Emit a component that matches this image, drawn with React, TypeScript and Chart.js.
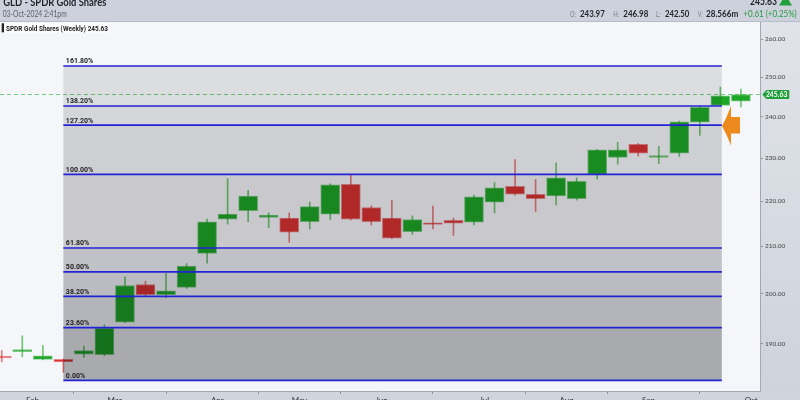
import React, { useEffect, useRef } from "react";
import { Chart, registerables } from "chart.js";

Chart.register(...registerables);

// Weekly candles, index 0 = week of 22-Jan-2024 ... index 36 = week of 30-Sep-2024
const WEEKS = [0, 1, 2, 3, 4, 5, 6, 7, 8, 9, 10, 11, 12, 13, 14, 15, 16, 17, 18, 19, 20, 21, 22, 23, 24, 25, 26, 27, 28, 29, 30, 31, 32, 33, 34, 35, 36];
const OPEN = [187.4, 188.4, 186.9, 186.9, 187.9, 187.8, 194.2, 201.9, 199.8, 201.3, 208.5, 216.0, 217.9, 216.4, 216.2, 215.4, 217.1, 223.9, 218.6, 216.2, 213.2, 215.0, 215.7, 215.3, 219.8, 223.4, 221.6, 221.2, 220.6, 226.2, 230.2, 233.3, 230.2, 231.2, 238.7, 242.9, 243.97];
const HIGH = [188.6, 191.5, 189.6, 187.0, 189.5, 193.7, 203.5, 202.6, 204.2, 206.3, 216.0, 225.2, 222.5, 217.4, 217.4, 219.8, 224.0, 226.0, 219.0, 220.2, 216.7, 218.9, 216.2, 221.4, 224.3, 229.7, 225.0, 228.9, 225.4, 232.1, 233.8, 233.5, 232.8, 239.0, 242.6, 247.5, 246.98];
const LOW = [186.4, 187.4, 186.8, 184.4, 187.3, 187.6, 194.1, 199.5, 199.2, 201.1, 206.4, 214.9, 215.4, 214.1, 210.9, 213.8, 215.9, 215.8, 214.7, 211.7, 212.6, 213.8, 212.4, 214.7, 217.4, 221.4, 217.7, 219.2, 220.3, 225.1, 228.6, 230.5, 228.7, 230.4, 235.5, 242.9, 242.5];
const CLOSE = [187.2, 188.8, 187.6, 186.4, 188.6, 193.0, 201.7, 199.8, 200.6, 205.8, 215.4, 217.1, 221.2, 216.9, 213.1, 218.8, 223.8, 216.0, 215.4, 211.8, 215.9, 214.8, 215.1, 221.0, 223.1, 221.6, 220.6, 225.4, 224.6, 232.0, 232.0, 231.2, 230.6, 238.8, 242.4, 245.3, 245.63];

const MONTH_LABELS = ["Feb", "Mar", "Apr", "May", "Jun", "Jul", "Aug", "Sep", "Oct"];
const MONTH_TICK_WEEKS = [1.5, 5.5, 10.5, 14.5, 18.5, 23.5, 27.5, 31.5, 36.5];
const PRICE_TICKS = [190, 200, 210, 220, 230, 240, 250, 260];

const FIB_LEVELS = [0, 0.236, 0.382, 0.5, 0.618, 1.0, 1.272, 1.382, 1.618];
const FIB_LABELS = ["0.00%", "23.60%", "38.20%", "50.00%", "61.80%", "100.00%", "127.20%", "138.20%", "161.80%"];
const FIB_LOW = 182.9;
const FIB_HIGH = 226.2;
const FIB_FROM_WEEK = 3;
const FIB_TO_WEEK = 35.07;

const LAST_PRICE = 245.63;
const ARROW_TIP = { week: 35.08, price: 237.8 };

const TITLE = "GLD - SPDR Gold Shares";
const DATE_TEXT = "03-Oct-2024 2:41pm";
const SUBTITLE = "SPDR Gold Shares (Weekly) 245.63";
const OHLC_TEXT = [
  ["O:", "243.97"],
  ["H:", "246.98"],
  ["L:", "242.50"],
  ["V:", "28.566m"],
];
const CHANGE_TEXT = "+0.61 (+0.25%)";

function fitText(ctx: CanvasRenderingContext2D, text: string, x: number, y: number, w: number, font: string, color: string) {
  ctx.save();
  ctx.font = font;
  ctx.fillStyle = color;
  ctx.textAlign = "left";
  ctx.textBaseline = "alphabetic";
  const m = ctx.measureText(text).width || 1;
  ctx.translate(x, y);
  ctx.scale(w / m, 1);
  ctx.fillText(text, 0, 0);
  ctx.restore();
}

const fibPlugin = {
  id: "fibDecor",
  beforeDraw(chart: any) {
    const { ctx, chartArea: a, width, height } = chart;
    ctx.save();
    ctx.fillStyle = "#f5f6fa";
    ctx.fillRect(0, 0, width, height);
    ctx.fillStyle = "#ccd1db";
    ctx.fillRect(0, 0, width, 21);
    ctx.fillStyle = "#b7bdc8";
    ctx.fillRect(0, 21, width, 1);
    const g = ctx.createLinearGradient(0, a.top, 0, a.bottom);
    g.addColorStop(0, "#e0e3e9");
    g.addColorStop(1, "#ced3dc");
    ctx.fillStyle = g;
    ctx.fillRect(a.right, a.top, width - a.right, a.bottom - a.top);
    ctx.fillStyle = "#cfd4dd";
    ctx.fillRect(0, a.bottom, width, height - a.bottom);
    ctx.restore();
  },
  beforeDatasetsDraw(chart: any) {
    const { ctx, chartArea: a, scales } = chart;
    const y = Math.round(scales.y.getPixelForValue(LAST_PRICE)) + 0.5;
    ctx.save();
    ctx.strokeStyle = "rgba(70,190,80,0.75)";
    ctx.lineWidth = 1;
    ctx.setLineDash([4, 3]);
    ctx.beginPath();
    ctx.moveTo(a.left, y);
    ctx.lineTo(a.right, y);
    ctx.stroke();
    ctx.restore();
  },
  afterDatasetsDraw(chart: any) {
    const { ctx, scales } = chart;
    const xs = scales.x, ys = scales.y;
    const left = xs.getPixelForValue(FIB_FROM_WEEK);
    const right = xs.getPixelForValue(FIB_TO_WEEK);
    const shades = [0.31, 0.265, 0.235, 0.21, 0.185, 0.155, 0.13, 0.1];
    const levelPx = FIB_LEVELS.map((l) => ys.getPixelForValue(FIB_LOW + l * (FIB_HIGH - FIB_LOW)));
    ctx.save();
    for (let k = 0; k < FIB_LEVELS.length - 1; k++) {
      const yb = levelPx[k], yt = levelPx[k + 1];
      ctx.fillStyle = `rgba(0,0,8,${shades[k]})`;
      ctx.fillRect(left, yt, right - left, yb - yt);
    }
    ctx.strokeStyle = "#2222d6";
    ctx.lineWidth = 1.6;
    levelPx.forEach((py, k) => {
      ctx.beginPath();
      ctx.moveTo(left, py);
      ctx.lineTo(right, py);
      ctx.stroke();
      ctx.font = "bold 7px Roboto";
      ctx.fillStyle = "#1e1e1e";
      ctx.textBaseline = "alphabetic";
      ctx.fillText(FIB_LABELS[k], left + 2.5, py - 2.6);
    });
    // orange arrow
    const tx = xs.getPixelForValue(ARROW_TIP.week);
    const ty = ys.getPixelForValue(ARROW_TIP.price);
    ctx.fillStyle = "#ec8a1e";
    ctx.beginPath();
    ctx.moveTo(tx, ty);
    ctx.quadraticCurveTo(tx + 5, ty - 9, tx + 9, ty - 20);
    ctx.lineTo(tx + 9, ty - 9);
    ctx.lineTo(tx + 18, ty - 9);
    ctx.lineTo(tx + 18, ty + 7.5);
    ctx.lineTo(tx + 9, ty + 7.5);
    ctx.lineTo(tx + 9, ty + 19.5);
    ctx.quadraticCurveTo(tx + 5, ty + 9, tx, ty);
    ctx.closePath();
    ctx.fill();
    ctx.restore();
  },
  afterDraw(chart: any) {
    const { ctx, chartArea: a, scales } = chart;
    // last price tag
    const y = scales.y.getPixelForValue(LAST_PRICE);
    const x0 = a.right + 2.3;
    ctx.save();
    ctx.fillStyle = "#22a03b";
    ctx.beginPath();
    ctx.moveTo(x0, y);
    ctx.lineTo(x0 + 4, y - 4.6);
    ctx.lineTo(x0 + 26, y - 4.6);
    ctx.quadraticCurveTo(x0 + 27, y - 4.6, x0 + 27, y - 3.6);
    ctx.lineTo(x0 + 27, y + 3.6);
    ctx.quadraticCurveTo(x0 + 27, y + 4.6, x0 + 26, y + 4.6);
    ctx.lineTo(x0 + 4, y + 4.6);
    ctx.closePath();
    ctx.fill();
    ctx.restore();
    fitText(ctx, LAST_PRICE.toFixed(2), x0 + 3.6, y + 2.7, 21.5, "bold 8px Lato", "#ffffff");

    // header
    fitText(ctx, TITLE, 3.3, 5.5, 103, "bold 12px Lato", "#1f2229");
    fitText(ctx, DATE_TEXT, 2.7, 16.6, 64, "9px Lato", "#5d626b");
    fitText(ctx, LAST_PRICE.toFixed(2), 750, 5.2, 27, "bold 12px Lato", "#1f2229");
    ctx.save();
    ctx.fillStyle = "#22a03b";
    ctx.beginPath();
    ctx.moveTo(779, 5.5);
    ctx.lineTo(792, 5.5);
    ctx.lineTo(785.5, -5);
    ctx.closePath();
    ctx.fill();
    ctx.restore();
    const labelX = [570, 613.3, 656, 697.7];
    const labelW = [6, 6, 4.7, 5];
    const valX = [580, 623.3, 665, 706];
    const valW = [24.7, 25, 24.3, 32.3];
    OHLC_TEXT.forEach(([lab, val], i) => {
      fitText(ctx, lab, labelX[i], 16.7, labelW[i], "8px Lato", "#7a7f88");
      fitText(ctx, val, valX[i], 16.7, valW[i], "bold 9px Lato", "#23262d");
    });
    fitText(ctx, CHANGE_TEXT, 743.3, 16.7, 53.4, "9px Lato", "#2a9a45");

    // subtitle
    ctx.save();
    ctx.fillStyle = "rgba(255,255,255,0.7)";
    ctx.fillRect(5, 23, 104, 10);
    ctx.fillStyle = "#222";
    ctx.fillRect(1.7, 23.3, 2.3, 9);
    ctx.restore();
    fitText(ctx, SUBTITLE, 6, 30.7, 102, "bold 8px Roboto", "#1e1e1e");
  },
};

export default function App() {
  const ref = useRef<HTMLCanvasElement>(null);
  useEffect(() => {
    const canvas = ref.current!;
    const up = OPEN.map((o, i) => CLOSE[i] >= o);
    const bodyFill = up.map((u) => (u ? "rgb(30,166,38)" : "rgb(218,50,50)"));
    const bodyEdge = up.map((u) => (u ? "rgba(30,166,38,0.55)" : "rgba(218,50,50,0.55)"));
    const wickCol = up.map((u) => (u ? "rgba(40,170,45,0.65)" : "rgba(220,60,60,0.65)"));
    const chart = new Chart(canvas, {
      type: "bar",
      data: {
        datasets: [
          {
            label: "wick",
            data: WEEKS.map((w, i) => ({ x: w, y: [LOW[i], HIGH[i]] })) as any,
            backgroundColor: wickCol,
            barThickness: 1,
            grouped: false,
            order: 2,
          },
          {
            label: "body",
            data: WEEKS.map((w, i) => ({ x: w, y: [OPEN[i], CLOSE[i]] })) as any,
            backgroundColor: bodyFill,
            borderColor: bodyEdge,
            borderWidth: 1,
            borderSkipped: false,
            barThickness: 19,
            minBarLength: 1.6,
            grouped: false,
            order: 1,
          },
        ] as any,
      },
      options: {
        responsive: false,
        animation: false,
        devicePixelRatio: 1,
        layout: { padding: { top: 22, left: 0, right: 0, bottom: 0 } },
        plugins: { legend: { display: false }, tooltip: { enabled: false } },
        scales: {
          x: {
            type: "linear",
            min: -0.086,
            max: 36.93,
            offset: false,
            afterBuildTicks: (s: any) => {
              s.ticks = MONTH_TICK_WEEKS.map((v) => ({ value: v }));
            },
            afterFit: (s: any) => {
              s.height = 9;
            },
            grid: { drawOnChartArea: false, drawTicks: true, tickLength: 3, color: "#8d939c" },
            border: { display: true, color: "#a3a9b2" },
            ticks: {
              autoSkip: false,
              maxRotation: 0,
              padding: 2,
              color: "#333",
              font: { size: 8, family: "Lato" },
              callback: (_v: any, i: number) => MONTH_LABELS[i] ?? "",
            },
          },
          y: {
            type: "logarithmic",
            position: "right",
            min: 180.9,
            max: 264.7,
            afterBuildTicks: (s: any) => {
              s.ticks = PRICE_TICKS.map((v) => ({ value: v }));
            },
            afterFit: (s: any) => {
              s.width = 40;
            },
            grid: { drawOnChartArea: false, drawTicks: true, tickLength: 3, color: "#8d939c" },
            border: { display: true, color: "#a3a9b2" },
            ticks: {
              padding: 2,
              color: "#444",
              font: { size: 6.5, family: "Lato" },
              callback: (v: any) => Number(v).toFixed(2),
            },
          },
        },
      } as any,
      plugins: [fibPlugin],
    });
    return () => chart.destroy();
  }, []);
  return (
    <div style={{ position: "fixed", left: 0, top: 0, width: 800, height: 400 }}>
      <canvas ref={ref} width={800} height={400} style={{ display: "block", width: 800, height: 400 }} />
    </div>
  );
}
